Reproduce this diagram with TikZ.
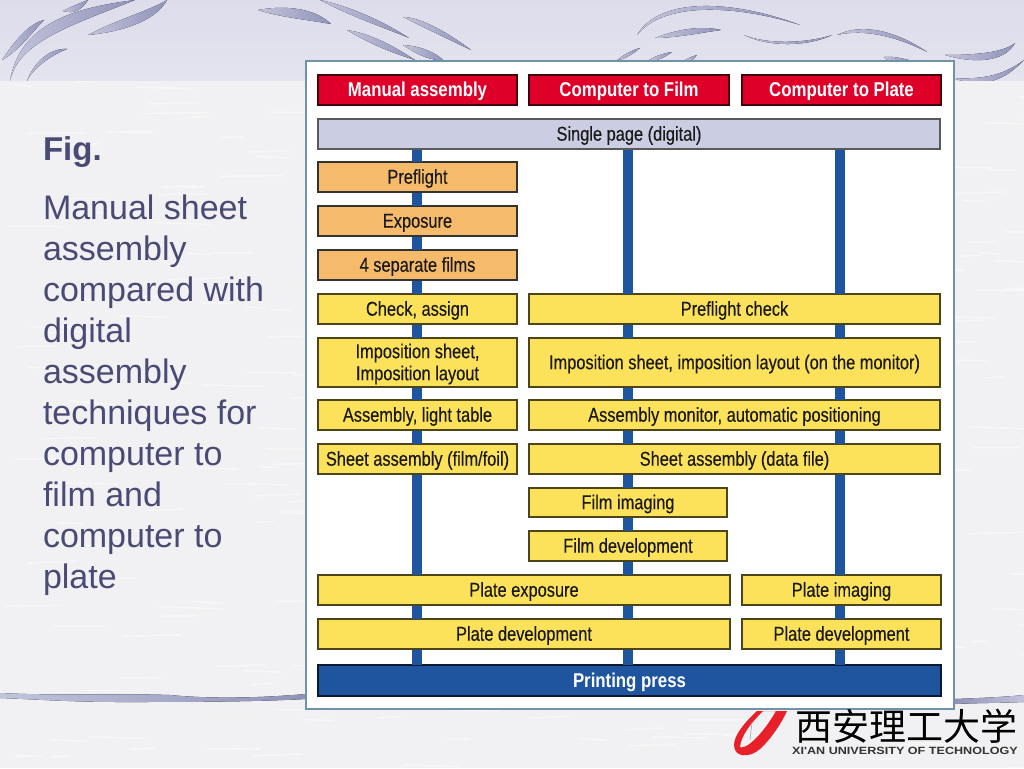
\documentclass[tikz,border=0pt]{standalone}
\usepackage{fontspec}
\usetikzlibrary{calc}
\setmainfont{Liberation Sans}
\newfontfamily\narrowf[FakeStretch=0.82,FakeBold=0.25]{Liberation Sans}
\newfontfamily\narrowb[FakeStretch=0.84]{Liberation Sans Bold}
\newfontfamily\widef[FakeStretch=1.2]{Liberation Sans Bold}
\newfontfamily\cjkf{Noto Sans CJK SC}
\definecolor{pagebg}{HTML}{F1F1F3}
\definecolor{bandtop}{HTML}{DCDCEB}
\definecolor{bandlow}{HTML}{E4E4EF}
\definecolor{swl}{HTML}{C2C3DB}
\definecolor{swd}{HTML}{9093B9}
\definecolor{capt}{HTML}{4A4B75}
\definecolor{panelline}{HTML}{6F93A8}
\definecolor{hdr}{HTML}{DE0029}
\definecolor{lav}{HTML}{CBCDE3}
\definecolor{orng}{HTML}{F5BA6A}
\definecolor{yel}{HTML}{FCE15A}
\definecolor{bluebar}{HTML}{1F559F}
\definecolor{logored}{HTML}{E8202A}
\tikzset{
  boxbase/.style={draw=#1,line width=1.2pt,inner sep=0pt,outer sep=0pt,
    text=black!90,font=\narrowf\fontsize{20}{21}\selectfont},
  headbox/.style={boxbase=black!70!hdr,fill=hdr,text=white,font=\narrowb\fontsize{20}{21}\selectfont},
  lavbox/.style={boxbase=black!65,fill=lav},
  orbox/.style={boxbase=black!80,fill=orng},
  yelbox/.style={boxbase=black!70!yel,fill=yel},
  pressbox/.style={boxbase=black!70!bluebar,fill=bluebar,text=white,font=\narrowb\fontsize{20}{21}\selectfont},
  barline/.style={draw=bluebar,line width=#1,shorten >=0.5pt,shorten <=0.5pt},
  caption/.style={inner sep=0pt,outer sep=0pt,text=capt},
}
\newcommand\bx[7]{\node[#6,minimum width={(#4-#2)*1pt},minimum height={(#5-#3)*1pt}] (#1) at ({(#2+#4)/2},{(#3+#5)/2})
  {\raisebox{-2.5pt}[\height][\depth]{\begin{tabular}{@{}c@{}}#7\end{tabular}}};}
\newcommand\swoosh[5]{% start, control 1, control 2, end, offset of the back curve
  \fill[left color=swl,right color=swd] (#1) .. controls (#2) and (#3) .. (#4)
    .. controls ($(#3)+(#5)$) and ($(#2)+(#5)$) .. (#1) -- cycle;}
\begin{document}
\begin{tikzpicture}[x=1pt,y=-1pt]
\useasboundingbox (0,0) rectangle (1024,768);
% page and paper grain
\fill[pagebg] (0,0) rectangle (1024,768);
\begin{scope}
\clip (0,80) rectangle (1024,768);
\pgfmathsetseed{42}
\foreach \i in {1,...,500}{
  \pgfmathsetmacro{\xa}{rnd*1024}
  \pgfmathsetmacro{\ya}{80+rnd*688}
  \pgfmathsetmacro{\ll}{15+rnd*50}
  \pgfmathsetmacro{\dd}{rnd*4-2}
  \pgfmathsetmacro{\cc}{rnd<0.6 ? 100 : 95}
  \draw[line width=1.4pt,line cap=round,white!\cc!black,opacity=0.45] (\xa,\ya) -- ++(\ll,\dd);
}
\end{scope}
\shade[top color=bandtop,bottom color=bandlow] (0,0) rectangle (1024,80);
% swooshes in the top band
\begin{scope}
\clip (0,0) rectangle (1024,80);
\swoosh{2,60}{14,42}{28,24}{44,20}{3,10}
\swoosh{10,81}{18,42}{70,26}{135,0}{2,-18}
\swoosh{63,11}{70,7}{78,4}{88,0}{3,7}
\swoosh{88,35}{120,32}{155,22}{167,0}{-4,-12}
\swoosh{27,81}{34,62}{50,48}{67,49}{-3,9}
\swoosh{258,10}{285,5}{315,8}{331,24}{-6,12}
\swoosh{320,0}{350,16}{385,28}{409,38}{-10,-12}
\swoosh{347,30}{370,44}{390,52}{415,60}{-4,-11}
\swoosh{403,17}{425,28}{450,40}{471,50}{-7,-11}
\swoosh{403,45}{420,46}{435,52}{443,60}{-3,9}
\swoosh{637,35}{665,0}{740,6}{800,25}{-4,-5}
\swoosh{655,38}{675,30}{700,25}{721,30}{0,8}
\swoosh{744,35}{770,48}{810,46}{832,35}{-2,-3}
\swoosh{837,35}{865,28}{900,38}{927,52}{-2,-6}
\swoosh{945,55}{975,64}{1005,62}{1015,43}{-2,-9}
\swoosh{952,78}{985,80}{1005,74}{1024,60}{-2,8}
\swoosh{617,60}{625,54}{632,50}{640,48}{-2,6}
\swoosh{649,60}{655,56}{665,53}{672,52}{-2,6}
\swoosh{685,60}{690,57}{694,56}{697,55}{-2,6}
\swoosh{884,57}{892,56}{900,58}{909,60}{-8,4}
\end{scope}
% swooshes in the lower part
\fill[left color=swl,right color=swd] (0,693) .. controls (60,696) and (110,693) .. (170,695)
  .. controls (210,699) and (260,698) .. (306,694) -- (306,699)
  .. controls (250,702) and (180,702) .. (120,702) .. controls (70,702) and (30,699) .. (0,698) -- cycle;
\fill[left color=swd,right color=swl] (955,699) .. controls (980,698) and (1005,697) .. (1024,695)
  -- (1024,702) .. controls (1000,703) and (975,703) .. (955,704) -- cycle;
% caption
\node[caption,anchor=base west,font=\bfseries\fontsize{33}{41}\selectfont] (figlabel) at (43,160) {Fig.};
\node[caption,anchor=north west,align=left,font=\fontsize{34}{41}\selectfont] (desc) at (43,195)
 {Manual sheet\\assembly\\compared with\\digital\\assembly\\techniques for\\computer to\\film and\\computer to\\plate};
% panel
\node[draw=panelline,line width=2pt,fill=white,inner sep=0pt,outer sep=0pt,minimum width=648pt,minimum height=648pt] (panel) at (630,385) {};
% rows
\bx{manual}{318}{75}{517}{105}{headbox}{Manual assembly}
\bx{ctf}{529}{75}{729}{105}{headbox}{Computer to Film}
\bx{ctp}{742}{75}{941}{105}{headbox}{Computer to Plate}
\bx{single}{318}{119}{940}{149}{lavbox}{Single page (digital)}
\bx{preflight}{318}{162}{517}{192}{orbox}{Preflight}
\bx{exposure}{318}{206}{517}{236}{orbox}{Exposure}
\bx{films}{318}{250}{517}{280}{orbox}{4 separate films}
\bx{check}{318}{294}{517}{324}{yelbox}{Check, assign}
\bx{impos}{318}{338}{517}{387}{yelbox}{Imposition sheet,\\[1pt]Imposition layout}
\bx{light}{318}{400}{517}{430}{yelbox}{Assembly, light table}
\bx{sheet}{318}{444}{517}{474}{yelbox}{Sheet assembly (film/foil)}
\bx{pfcheck}{529}{294}{940}{324}{yelbox}{Preflight check}
\bx{imposm}{529}{338}{940}{387}{yelbox}{Imposition sheet, imposition layout (on the monitor)}
\bx{asmon}{529}{400}{940}{430}{yelbox}{Assembly monitor, automatic positioning}
\bx{sheetd}{529}{444}{940}{474}{yelbox}{Sheet assembly (data file)}
\bx{filmimg}{529}{488}{727}{517}{yelbox}{Film imaging}
\bx{filmdev}{529}{531}{727}{561}{yelbox}{Film development}
\bx{plateexp}{318}{575}{730}{605}{yelbox}{Plate exposure}
\bx{plateimg}{742}{575}{941}{605}{yelbox}{Plate imaging}
\bx{platedev}{318}{619}{730}{649}{yelbox}{Plate development}
\bx{platedevb}{742}{619}{941}{649}{yelbox}{Plate development}
\bx{press}{318}{665}{941}{696}{pressbox}{Printing press}
% connectors
\coordinate (xl) at (417,0);
\coordinate (xm) at (628,0);
\coordinate (xr) at (840,0);
\foreach \a/\b in {single/preflight,preflight/exposure,exposure/films,films/check,check/impos,impos/light,light/sheet,sheet/plateexp,plateexp/platedev,platedev/press}
  \draw[barline=9.5pt] (\a.south -| xl) -- (\b.north -| xl);
\foreach \a/\b in {single/pfcheck,pfcheck/imposm,imposm/asmon,asmon/sheetd,sheetd/filmimg,filmimg/filmdev,filmdev/plateexp,plateexp/platedev,platedev/press}
  \draw[barline=10pt] (\a.south -| xm) -- (\b.north -| xm);
\foreach \a/\b in {single/pfcheck,pfcheck/imposm,imposm/asmon,asmon/sheetd,sheetd/plateimg,plateimg/platedevb,platedevb/press}
  \draw[barline=10pt] (\a.south -| xr) -- (\b.north -| xr);
% logo
\fill[logored,even odd rule] (757,711) .. controls (745,722) and (734,735) .. (734,745)
  .. controls (734,758) and (750,758) .. (760,749) .. controls (772,738) and (782,722) .. (787,711) -- cycle
  (763,711) -- (776,711) .. controls (768,725) and (758,738) .. (748,745)
  .. controls (745,747) and (741,748) .. (740,747) .. controls (741,735) and (752,722) .. (763,711) -- cycle;
\draw[black!35,line width=0.6pt] (752,722) -- (750,740);
\node[inner sep=0pt,text=black,font=\cjkf\fontsize{37}{37}\selectfont] (cjkname) at (906,726) {西安理工大学};
\node[inner sep=0pt,text=black!80,font=\widef\fontsize{10.5}{11}\selectfont] (enname) at (905,751) {XI'AN UNIVERSITY OF TECHNOLOGY};
\end{tikzpicture}
\end{document}
